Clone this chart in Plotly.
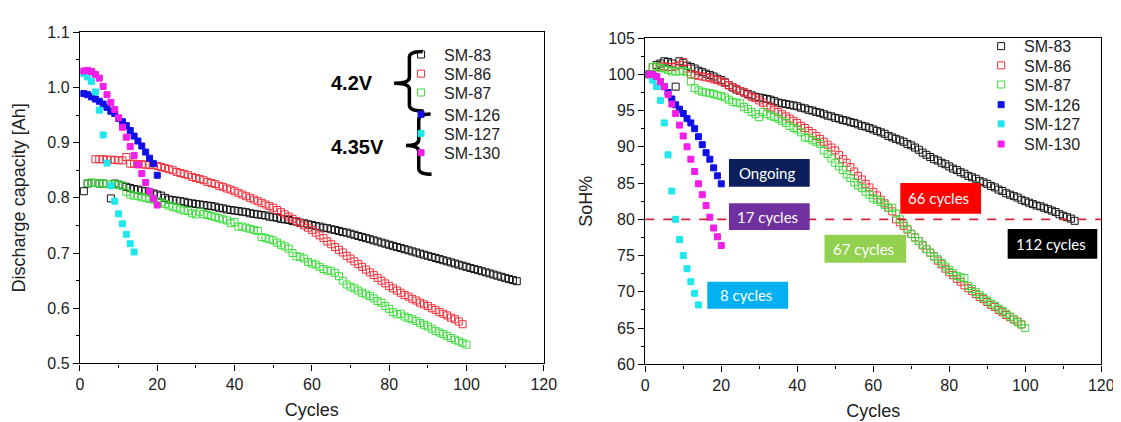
import plotly.graph_objects as go

# ---------------- data ----------------
series_names = ["SM-83", "SM-86", "SM-87", "SM-126", "SM-127", "SM-130"]
colors = ["#111111", "#F0303C", "#3CDC3C", "#1010E6", "#20E6EE", "#F01EE6"]

cyc_83 = list(range(1, 114))
cap_83 = [0.812, 0.826, 0.827, 0.827, 0.826, 0.826, 0.825, 0.799, 0.826, 0.824,
          0.822, 0.820, 0.818, 0.816, 0.815, 0.813, 0.812, 0.810, 0.808, 0.806,
          0.804, 0.800, 0.797, 0.796, 0.795, 0.794, 0.793, 0.791, 0.790, 0.789,
          0.788, 0.787, 0.786, 0.785, 0.784, 0.782, 0.781, 0.779, 0.778, 0.777,
          0.776, 0.775, 0.774, 0.772, 0.771, 0.770, 0.769, 0.768, 0.766, 0.765,
          0.764, 0.762, 0.761, 0.760, 0.758, 0.757, 0.755, 0.754, 0.752, 0.751,
          0.749, 0.748, 0.746, 0.745, 0.743, 0.742, 0.740, 0.738, 0.737, 0.735,
          0.733, 0.731, 0.729, 0.727, 0.725, 0.723, 0.721, 0.719, 0.717, 0.715,
          0.713, 0.711, 0.709, 0.707, 0.705, 0.703, 0.701, 0.699, 0.697, 0.695,
          0.693, 0.691, 0.689, 0.687, 0.685, 0.683, 0.681, 0.679, 0.677, 0.675,
          0.673, 0.671, 0.669, 0.667, 0.665, 0.663, 0.661, 0.659, 0.657, 0.655,
          0.653, 0.651, 0.649]
soh_83 = [100.0, 101.0, 101.3, 101.5, 101.8, 101.7, 101.5, 98.3, 101.8, 101.6,
          101.2, 101.0, 100.8, 100.5, 100.3, 100.1, 99.9, 99.7, 99.4, 99.2,
          98.9, 98.5, 98.2, 97.9, 97.7, 97.5, 97.3, 97.1, 96.9, 96.8,
          96.7, 96.6, 96.5, 96.3, 96.1, 96.0, 95.9, 95.8, 95.7, 95.6,
          95.4, 95.3, 95.1, 95.0, 94.8, 94.7, 94.5, 94.3, 94.2, 94.0,
          93.9, 93.7, 93.6, 93.4, 93.3, 93.1, 92.9, 92.8, 92.6, 92.4,
          92.2, 92.0, 91.8, 91.5, 91.3, 91.1, 90.9, 90.7, 90.4, 90.2,
          89.9, 89.6, 89.2, 88.9, 88.6, 88.3, 88.1, 87.8, 87.6, 87.3,
          87.0, 86.8, 86.5, 86.3, 86.0, 85.8, 85.6, 85.3, 85.1, 84.9,
          84.6, 84.4, 84.1, 83.9, 83.6, 83.4, 83.2, 83.0, 82.7, 82.5,
          82.3, 82.1, 81.9, 81.8, 81.6, 81.4, 81.2, 81.0, 80.7, 80.5,
          80.3, 80.1, 79.8]

cyc_86_cap = list(range(4, 100))
cap_86 = [0.870, 0.870, 0.870, 0.869, 0.869, 0.869, 0.868, 0.868, 0.874, 0.862,
          0.862, 0.861, 0.861, 0.860, 0.860, 0.859, 0.858, 0.856, 0.854, 0.852,
          0.850, 0.847, 0.845, 0.843, 0.841, 0.838, 0.836, 0.834, 0.832, 0.829,
          0.827, 0.825, 0.822, 0.820, 0.817, 0.815, 0.812, 0.809, 0.806, 0.803,
          0.800, 0.797, 0.794, 0.791, 0.788, 0.785, 0.782, 0.778, 0.774, 0.770,
          0.766, 0.762, 0.758, 0.754, 0.750, 0.746, 0.742, 0.737, 0.732, 0.727,
          0.721, 0.716, 0.711, 0.706, 0.701, 0.695, 0.690, 0.685, 0.680, 0.675,
          0.670, 0.665, 0.660, 0.655, 0.650, 0.645, 0.640, 0.636, 0.632, 0.628,
          0.624, 0.621, 0.617, 0.614, 0.610, 0.607, 0.604, 0.600, 0.597, 0.593,
          0.590, 0.587, 0.583, 0.580, 0.576, 0.571]
cyc_86_soh = list(range(2, 100))
soh_86 = [101.0, 101.0, 101.1, 101.1, 101.0, 101.0, 101.1, 101.3, 101.7, 100.8,
          100.0, 99.9, 99.8, 99.7, 99.6, 99.5, 99.3, 99.2, 99.0, 98.8,
          98.5, 98.2, 98.0, 97.7, 97.5, 97.2, 96.9, 96.7, 96.4, 96.1,
          95.7, 95.4, 95.1, 94.8, 94.5, 94.2, 93.9, 93.6, 93.3, 92.9,
          92.6, 92.2, 91.9, 91.5, 91.1, 90.7, 90.3, 89.9, 89.5, 88.9,
          88.3, 87.8, 87.2, 86.6, 86.0, 85.5, 84.9, 84.4, 83.8, 83.3,
          82.7, 82.2, 81.6, 81.1, 80.0, 79.6, 79.1, 78.6, 78.0, 77.5,
          77.0, 76.4, 75.9, 75.4, 74.9, 74.3, 73.8, 73.2, 72.7, 72.3,
          71.8, 71.4, 70.9, 70.5, 70.1, 69.7, 69.3, 69.0, 68.6, 68.2,
          67.9, 67.5, 67.2, 66.8, 66.5, 66.2, 65.9, 65.5]

cyc_87 = list(range(2, 101))
cap_87 = [0.827, 0.828, 0.827, 0.826, 0.826, 0.825, 0.825, 0.824, 0.824, 0.822,
          0.811, 0.806, 0.804, 0.803, 0.801, 0.800, 0.798, 0.797, 0.794, 0.792,
          0.789, 0.786, 0.784, 0.782, 0.779, 0.777, 0.776, 0.772, 0.770, 0.775,
          0.771, 0.769, 0.767, 0.765, 0.763, 0.761, 0.759, 0.754, 0.756, 0.748,
          0.748, 0.746, 0.744, 0.742, 0.740, 0.729, 0.727, 0.725, 0.723, 0.719,
          0.715, 0.712, 0.708, 0.700, 0.694, 0.693, 0.690, 0.684, 0.681, 0.679,
          0.675, 0.671, 0.668, 0.668, 0.664, 0.658, 0.650, 0.643, 0.639, 0.636,
          0.632, 0.628, 0.625, 0.622, 0.618, 0.613, 0.610, 0.604, 0.599, 0.593,
          0.589, 0.590, 0.585, 0.582, 0.580, 0.577, 0.573, 0.570, 0.567, 0.563,
          0.559, 0.556, 0.553, 0.550, 0.546, 0.543, 0.540, 0.537, 0.534]
soh_87 = [101.0, 101.1, 100.9, 100.8, 100.6, 100.4, 100.4, 100.4, 100.5, 100.3,
          99.0, 98.1, 97.8, 97.6, 97.5, 97.4, 97.3, 97.1, 97.0, 96.8,
          96.5, 96.2, 96.1, 96.0, 95.5, 95.2, 94.8, 94.5, 94.1, 94.8,
          94.5, 94.3, 94.1, 93.9, 93.6, 93.3, 92.9, 92.6, 92.4, 92.0,
          91.3, 91.2, 90.9, 90.7, 90.4, 89.5, 89.0, 88.4, 87.8, 87.3,
          86.8, 86.2, 85.7, 85.1, 84.7, 84.3, 83.8, 83.4, 82.9, 82.7,
          82.4, 82.0, 81.6, 81.6, 80.8, 80.0, 79.4, 78.7, 78.0, 77.5,
          77.0, 76.5, 75.9, 75.4, 74.9, 74.5, 74.0, 73.5, 73.0, 72.6,
          72.2, 72.0, 71.9, 70.8, 70.4, 70.0, 69.6, 69.2, 68.8, 68.4,
          68.1, 67.7, 67.4, 67.0, 66.6, 66.2, 65.8, 65.5, 65.0]

cyc_126 = list(range(1, 21))
cap_126 = [0.989, 0.987, 0.983, 0.979, 0.975, 0.970, 0.964, 0.957, 0.953, 0.944,
           0.938, 0.931, 0.922, 0.912, 0.903, 0.894, 0.883, 0.872, 0.862, 0.841]
soh_126 = [100.0, 99.9, 99.7, 99.0, 98.3, 97.5, 96.6, 95.8, 95.2, 94.6,
           93.9, 93.3, 92.5, 91.4, 90.3, 89.2, 88.3, 87.1, 86.0, 84.9]

cyc_127 = list(range(1, 15))
cap_127 = [1.025, 1.019, 1.011, 0.992, 0.959, 0.914, 0.863, 0.822, 0.794, 0.771,
           0.753, 0.734, 0.717, 0.702]
soh_127 = [100.0, 99.2, 98.3, 96.4, 93.3, 88.9, 83.9, 80.0, 77.2, 75.0,
           73.2, 71.4, 69.8, 68.2]

cyc_130 = list(range(1, 21))
cap_130 = [1.030, 1.031, 1.029, 1.024, 1.017, 1.002, 0.987, 0.973, 0.960, 0.945,
           0.928, 0.910, 0.893, 0.877, 0.860, 0.844, 0.828, 0.812, 0.799, 0.787]
soh_130 = [100.0, 100.0, 99.7, 99.0, 98.3, 97.2, 95.9, 94.6, 93.0, 91.5,
           90.0, 88.3, 86.6, 84.9, 83.4, 81.9, 80.3, 78.8, 77.6, 76.4]

left_x = [cyc_83, cyc_86_cap, cyc_87, cyc_126, cyc_127, cyc_130]
left_y = [cap_83, cap_86, cap_87, cap_126, cap_127, cap_130]
right_x = [cyc_83, cyc_86_soh, cyc_87, cyc_126, cyc_127, cyc_130]
right_y = [soh_83, soh_86, soh_87, soh_126, soh_127, soh_130]
symbols = ["square-open"] * 3 + ["square"] * 3

eol_threshold = 80
box_labels = ["Ongoing", "17 cycles", "8 cycles", "67 cycles", "66 cycles", "112 cycles"]
box_colors = ["#0B1F5C", "#7030A0", "#00B0F0", "#92D050", "#FF0000", "#000000"]
voltage_labels = ["4.2V", "4.35V"]

# ---------------- geometry helpers (pixels -> paper) ----------------
W, H = 1121, 422
def px(x):
    return x / W
def py(y):
    return 1 - y / H

FONT = "Liberation Sans, Arial, sans-serif"
LEG_FONT = dict(family=FONT, size=16, color="#222")

# legend row positions (pixels): left chart, right chart
left_leg_rows = [52.7, 72.7, 92.3, 115, 135, 155]
right_leg_rows = [44, 64, 84, 105, 125, 146]
left_leg_x, right_leg_x = 392, 981
row_shift = -12.5

fig = go.Figure()
legend_layout = {}
for side, (xs, ys, axx, axy, rows, lx, off) in enumerate([
        (left_x, left_y, "x", "y", left_leg_rows, left_leg_x, 0),
        (right_x, right_y, "x2", "y2", right_leg_rows, right_leg_x, 6)]):
    for i, name in enumerate(series_names):
        filled = symbols[i] == "square"
        mk = dict(symbol=symbols[i], size=6 if filled else 7, color=colors[i],
                  line=dict(width=1, color=colors[i]))
        k = off + i + 1
        lname = "legend" if k == 1 else f"legend{k}"
        fig.add_trace(go.Scatter(x=xs[i], y=ys[i], mode="markers", name=name,
                                 marker=mk, xaxis=axx, yaxis=axy, legend=lname,
                                 showlegend=True))
        legend_layout[lname] = dict(x=px(lx), y=py(rows[i] + row_shift), xanchor="left",
                                    yanchor="middle", bgcolor="rgba(0,0,0,0)",
                                    font=LEG_FONT, itemwidth=36)

axis_common = dict(showline=True, linecolor="black", linewidth=1.3, mirror=True,
                   ticks="outside", ticklen=6, tickwidth=1.3, tickcolor="black",
                   showgrid=False, zeroline=False,
                   tickfont=dict(family=FONT, size=16, color="#222"),
                   title_font=dict(family=FONT, size=18, color="#222"))

fig.update_layout(
    width=W, height=H, margin=dict(l=0, r=0, t=0, b=0),
    paper_bgcolor="white", plot_bgcolor="white", showlegend=True,
    xaxis=dict(domain=[px(69), px(540)], range=[0, 120], dtick=20, anchor="y",
               minor=dict(ticks="outside", ticklen=3, dtick=10, tickcolor="black"),
               title=dict(text="Cycles", standoff=11), **axis_common),
    yaxis=dict(domain=[py(362), py(17)], range=[0.5, 1.1], dtick=0.1, tickformat=".1f",
               anchor="x",
               minor=dict(ticks="outside", ticklen=3, dtick=0.05, tickcolor="black"),
               title=dict(text="Discharge capacity [Ah]", standoff=17), **axis_common),
    xaxis2=dict(domain=[px(643), px(1106)], range=[0, 120], dtick=20, anchor="y2",
                minor=dict(ticks="outside", ticklen=3, dtick=10, tickcolor="black"),
                title=dict(text="Cycles", standoff=11), **axis_common),
    yaxis2=dict(domain=[py(363), py(23)], range=[60, 105], dtick=5, anchor="x2",
                minor=dict(ticks="outside", ticklen=3, dtick=2.5, tickcolor="black"),
                title=dict(text="SoH%", standoff=10), **axis_common),
    **legend_layout,
)

# 80% end-of-life dashed line on right chart
fig.add_shape(type="line", xref="x2 domain", yref="y2", x0=0, x1=1,
              y0=eol_threshold, y1=eol_threshold,
              line=dict(color="#D0283C", width=1.6, dash="dash"))

# label boxes (pixel boxes: x0, x1, y0, y1)
boxes = [(728, 810, 149, 178), (728, 810, 195, 223), (706, 788, 277, 305),
         (825, 908, 228, 257), (902, 984, 174, 206), (1011, 1102, 222, 253)]
for (x0, x1, y0, y1), lab, col in zip(boxes, box_labels, box_colors):
    fig.add_shape(type="rect", xref="paper", yref="paper",
                  x0=px(x0), x1=px(x1), y0=py(y1), y1=py(y0),
                  fillcolor=col, line=dict(width=0))
    fig.add_annotation(xref="paper", yref="paper", x=px((x0 + x1) / 2 - 2),
                       y=py((y0 + y1) / 2), xanchor="center", yanchor="middle",
                       text=lab, showarrow=False,
                       font=dict(family="Lato, sans-serif", size=15, color="white"))

# curly braces for voltage groups
def brace(vx, yt, yb, ym, tx, hx_top, hx_bot, r=6):
    pts = [
        f"M {px(hx_top)},{py(yt)}",
        f"Q {px(vx)},{py(yt)} {px(vx)},{py(yt + r)}",
        f"L {px(vx)},{py(ym - r)}",
        f"Q {px(vx)},{py(ym)} {px(tx)},{py(ym)}",
        f"Q {px(vx)},{py(ym)} {px(vx)},{py(ym + r)}",
        f"L {px(vx)},{py(yb - r)}",
        f"Q {px(vx)},{py(yb)} {px(hx_bot)},{py(yb)}",
    ]
    return " ".join(pts)

fig.add_shape(type="path", xref="paper", yref="paper",
              path=brace(403.5, 37, 99, 70, 388, 417, 418),
              line=dict(color="black", width=3.5))
fig.add_shape(type="path", xref="paper", yref="paper",
              path=brace(413, 102, 165, 135, 400, 425, 426),
              line=dict(color="black", width=3.5))
fig.add_annotation(xref="paper", yref="paper", x=px(345), y=py(70),
                   xanchor="center", yanchor="middle", text="<b>" + voltage_labels[0] + "</b>",
                   showarrow=False, font=dict(family=FONT, size=20, color="black"))
fig.add_annotation(xref="paper", yref="paper", x=px(351), y=py(136),
                   xanchor="center", yanchor="middle", text="<b>" + voltage_labels[1] + "</b>",
                   showarrow=False, font=dict(family=FONT, size=20, color="black"))

fig.write_html("out.html")
